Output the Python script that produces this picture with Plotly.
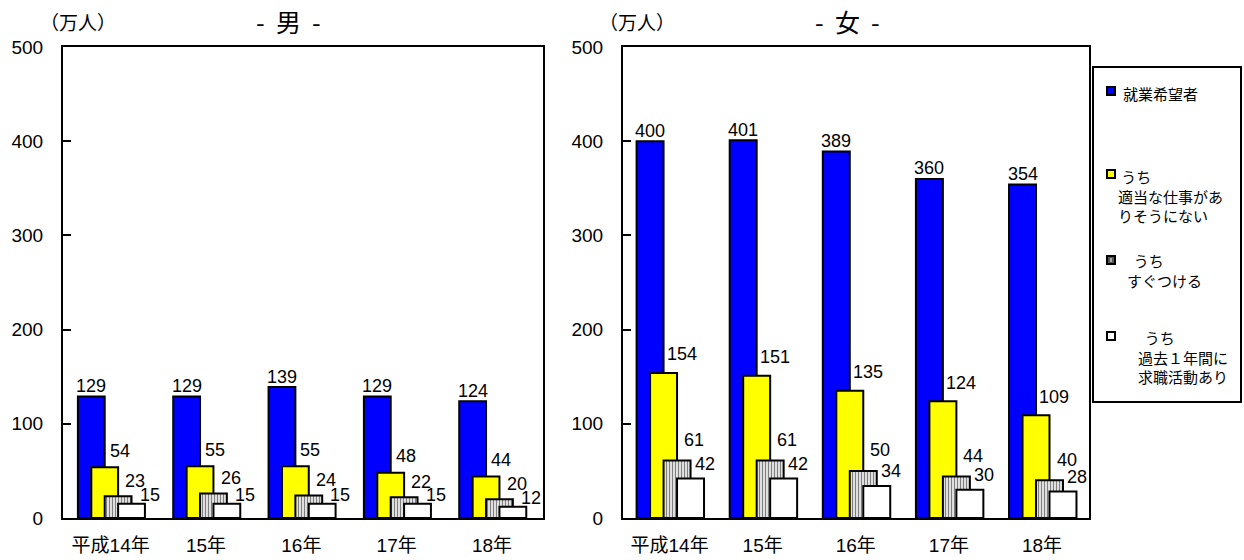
import plotly.graph_objects as go

# ---- data -------------------------------------------------------------
categories = ["平成14年", "15年", "16年", "17年", "18年"]

series_names = ["就業希望者", "うち適当な仕事がありそうにない", "うちすぐつける", "うち過去１年間に求職活動あり"]

male_hope = [129, 129, 139, 129, 124]
male_no_job = [54, 55, 55, 48, 44]
male_ready = [23, 26, 24, 22, 20]
male_searched = [15, 15, 15, 15, 12]

female_hope = [400, 401, 389, 360, 354]
female_no_job = [154, 151, 135, 124, 109]
female_ready = [61, 61, 50, 44, 40]
female_searched = [42, 42, 34, 30, 28]

y_ticks = [0, 100, 200, 300, 400, 500]

# ---- page geometry (pixels) -------------------------------------------
W, H = 1244, 560
PLOT_TOP, PLOT_BOTTOM = 47, 518
LEFT_X = (63, 543)
RIGHT_X = (623, 1089)

FONT = "Liberation Sans, Arial, Noto Sans CJK JP, sans-serif"
CJK = "Noto Sans CJK JP, Liberation Sans, sans-serif"
NB = "\u00a0"


def px(x):
    return x / W


def py(y):
    return 1 - y / H


# bar styling: fill, pattern, left-edge offset (px from category centre)
BAR_W_PX = 27
bar_styles = [
    dict(color="#0000FF", pattern=None, off=-33),
    dict(color="#FFFF00", pattern=None, off=-19.5),
    dict(color="#FFFFFF", pattern=dict(shape="|", fgcolor="#000000", bgcolor="#FFFFFF",
                                      size=3, solidity=0.5), off=-6),
    dict(color="#FFFFFF", pattern=None, off=7.5),
]

# value-label placement per series: (x shift from bar centre, gap above bar)
label_place = {
    "x": [(0, 3), (15, 9), (17, 8), (18, 1)],
    "x2": [(0, 3), (18, 11), (17, 13), (14, 7)],
}

fig = go.Figure()
annotations = []

panels = [
    ("x", "y", LEFT_X, [male_hope, male_no_job, male_ready, male_searched]),
    ("x2", "y2", RIGHT_X, [female_hope, female_no_job, female_ready, female_searched]),
]

for xref, yref, (x0, x1), values in panels:
    unit = (x1 - x0) / len(categories)
    for i, (name, vals, st) in enumerate(zip(series_names, values, bar_styles)):
        marker = dict(color=st["color"], line=dict(color="#000000", width=2))
        if st["pattern"] is not None:
            marker["pattern"] = st["pattern"]
        fig.add_trace(go.Bar(
            x=categories, y=vals, name=name,
            xaxis=xref, yaxis=yref,
            width=BAR_W_PX / unit, offset=st["off"] / unit,
            marker=marker, showlegend=False,
        ))
        dx, gap = label_place[xref][i]
        centre = st["off"] + BAR_W_PX / 2
        for c, v in zip(categories, vals):
            annotations.append(dict(
                x=c, y=v, xref=xref, yref=yref, text=str(v), showarrow=False,
                xanchor="center", yanchor="bottom",
                xshift=centre + dx, yshift=gap - 4.5,
                font=dict(family=FONT, size=18, color="#000000"),
            ))

# panel titles and unit labels
for cx, title in [(288.5, "-" + NB + NB + "男" + NB + NB + "-"),
                  (847.5, "-" + NB + NB + "女" + NB + NB + "-")]:
    annotations.append(dict(x=px(cx), y=py(21), xref="paper", yref="paper", text=title,
                            showarrow=False, xanchor="center", yanchor="middle",
                            font=dict(family=CJK, size=25, color="#000000")))
for cx in [78, 636.5]:
    annotations.append(dict(x=px(cx), y=py(22), xref="paper", yref="paper", text="（万人）",
                            showarrow=False, xanchor="center", yanchor="middle",
                            font=dict(family=CJK, size=19, color="#000000")))

# legend box drawn by hand
shapes = [dict(type="rect", xref="paper", yref="paper",
               x0=px(1093), x1=px(1241), y0=py(402), y1=py(67),
               line=dict(color="#000000", width=2), fillcolor="rgba(0,0,0,0)")]

# (swatch colour, swatch centre y, text, text left x, text top y)
legend_items = [
    ("#0000FF", 91, "就業希望者", 1121, 81),
    ("#FFFF00", 174, NB + "うち<br>適当な仕事があ<br>りそうにない", 1116, 164),
    ("#555555", 260, NB + NB + "うち<br>すぐつける", 1125, 248),
    ("#FFFFFF", 336, NB + NB + "うち<br>過去１年間に<br>求職活動あり", 1136, 325),
]
for color, cy, text, lx, ty in legend_items:
    shapes.append(dict(type="rect", xref="paper", yref="paper",
                       x0=px(1107), x1=px(1115), y0=py(cy + 4), y1=py(cy - 4),
                       line=dict(color="#000000", width=2), fillcolor=color))
    annotations.append(dict(x=px(lx), y=py(ty), xref="paper", yref="paper", text=text,
                            showarrow=False, xanchor="left", yanchor="top", align="left",
                            font=dict(family=CJK, size=15, color="#000000")))
# white stripe inside the patterned legend swatch
shapes.append(dict(type="line", xref="paper", yref="paper",
                   x0=px(1111), x1=px(1111), y0=py(258), y1=py(262),
                   line=dict(color="#FFFFFF", width=1)))

y_dom = [py(PLOT_BOTTOM), py(PLOT_TOP)]
axis_common = dict(showline=True, linecolor="#000000", linewidth=2, mirror=True,
                   showgrid=False, zeroline=False, automargin=False)

fig.update_layout(
    width=W, height=H,
    margin=dict(l=0, r=0, t=0, b=0, autoexpand=False),
    paper_bgcolor="#FFFFFF", plot_bgcolor="#FFFFFF",
    barmode="overlay",
    showlegend=False,
    annotations=annotations,
    shapes=shapes,
    xaxis=dict(domain=[px(LEFT_X[0]), px(LEFT_X[1])], anchor="y", ticks="",
               ticklabelstandoff=9,
               tickfont=dict(family=FONT, size=19, color="#000000"), **axis_common),
    xaxis2=dict(domain=[px(RIGHT_X[0]), px(RIGHT_X[1])], anchor="y2", ticks="",
                ticklabelstandoff=9,
                tickfont=dict(family=FONT, size=19, color="#000000"), **axis_common),
    yaxis=dict(domain=y_dom, anchor="x", range=[0, 500], tickvals=y_ticks,
               ticks="inside", ticklen=8, tickwidth=2, tickcolor="#000000",
               ticklabelstandoff=14,
               tickfont=dict(family=FONT, size=19, color="#000000"), **axis_common),
    yaxis2=dict(domain=y_dom, anchor="x2", range=[0, 500], tickvals=y_ticks,
                ticks="inside", ticklen=8, tickwidth=2, tickcolor="#000000",
                ticklabelstandoff=14,
                tickfont=dict(family=FONT, size=19, color="#000000"), **axis_common),
)

fig.write_html("out.html")
